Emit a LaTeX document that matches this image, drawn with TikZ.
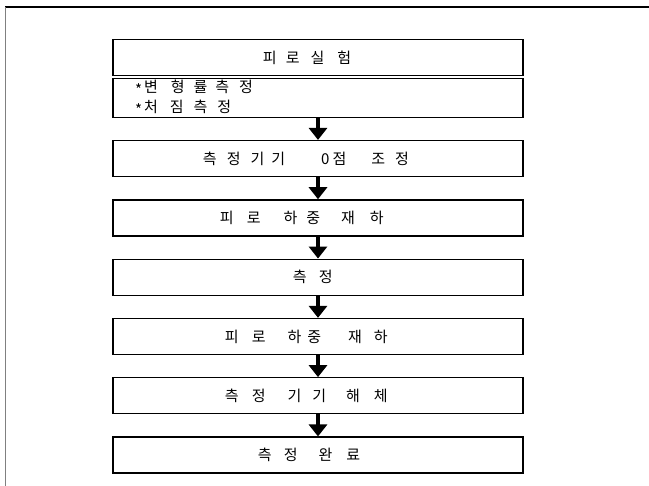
\documentclass[tikz,border=0pt]{standalone}
\usepackage{fontspec}
\newfontfamily\kr{Noto Sans CJK KR}
\usetikzlibrary{arrows.meta, positioning}

% fixed gap between letters
\newcommand{\kgap}[1]{\hspace*{#1pt}}
% bullet of the note lines
\newcommand{\nbul}{\raisebox{-3pt}{*}}

\begin{document}
\begin{tikzpicture}[x=1pt, y=-1pt,
		stepbox/.style={
			rectangle,
			draw,
			line width=1.3pt,
			text width=410pt,
			align=left,
			minimum height=36pt,
			inner sep=0pt,
			execute at begin node={\setlength{\parindent}{0pt}},
			font=\kr\fontsize{15}{17}\selectfont
		},
		notebox/.style={
			stepbox,
			minimum height=39pt,
			font=\kr\fontsize{15}{20}\selectfont
		},
		arrow/.style={
			-{Triangle[width=18pt, length=12pt]},
			line width=3.2pt
		},
		node distance=22pt
		]

		\useasboundingbox (0,0) rectangle (649,486);

		% outer frame (top and left only)
		\draw[line width=1.6pt] (5,7) -- (649,7);
		\draw[gray, line width=0.6pt] (5,7) -- (5,486);

		% steps
		\node (test) [stepbox] at (318,57.5) {\kgap{150}피\kgap{9}로\kgap{11}실\kgap{13}험};
		\node (items) [notebox, below=1.5pt of test] {\kgap{22}\nbul\kgap{2}변\kgap{13}형\kgap{9}률\kgap{8}측\kgap{10}정\\{}\kgap{22}\nbul\kgap{2}처\kgap{12}짐\kgap{10}측\kgap{10}정};
		\node (zero) [stepbox, below=of items] {\kgap{90}측\kgap{10}정\kgap{10}기\kgap{7}기\kgap{36}0\kgap{3}점\kgap{25}조\kgap{10}정};
		\node (unload1) [stepbox, below=of zero] {\kgap{107}피\kgap{13}로\kgap{23}하\kgap{9}중\kgap{21}재\kgap{15}하};
		\node (measure) [stepbox, below=of unload1] {\kgap{180}측\kgap{12}정};
		\node (unload2) [stepbox, below=of measure] {\kgap{112}피\kgap{13}로\kgap{22}하\kgap{6}중\kgap{27}재\kgap{12}하};
		\node (remove) [stepbox, below=of unload2] {\kgap{112}측\kgap{13}정\kgap{22}기\kgap{11}기\kgap{20}해\kgap{14}체};
		\node (done) [stepbox, below=of remove] {\kgap{145}측\kgap{12}정\kgap{21}완\kgap{14}료};

		% arrows between steps
		\draw [arrow] (items) -- (zero);
		\draw [arrow] (zero) -- (unload1);
		\draw [arrow] (unload1) -- (measure);
		\draw [arrow] (measure) -- (unload2);
		\draw [arrow] (unload2) -- (remove);
		\draw [arrow] (remove) -- (done);

	\end{tikzpicture}
\end{document}
